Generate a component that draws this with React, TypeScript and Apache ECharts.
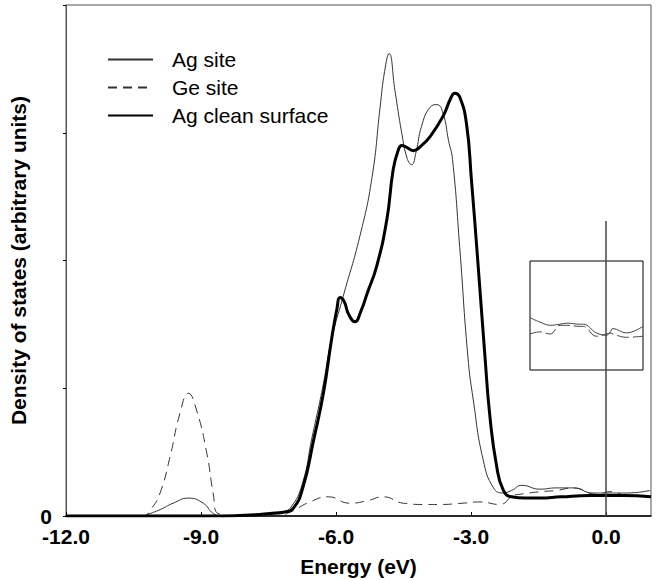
import React, { useEffect, useRef } from "react";
import * as echarts from "echarts";

// Ag site (thin solid)
const agSiteEnergy = [-12, -10.3, -10.2, -9.91, -9.62, -9.28, -8.95, -8.73, -8.55, -8.0, -7.5, -7.2, -7.0, -6.75, -6.53, -6.3, -6.1, -5.84, -5.47, -5.2, -5.02, -4.92, -4.82, -4.69, -4.54, -4.42, -4.32, -4.22, -4.1, -3.91, -3.76, -3.62, -3.5, -3.41, -3.25, -3.07, -2.95, -2.73, -2.5, -2.29, -2.1, -1.87, -1.47, -1.1, -0.73, -0.29, 0, 0.46, 0.98];
const agSiteDos = [0, 0, 0.01, 0.05, 0.1, 0.14, 0.1, 0.02, 0, 0, 0.01, 0.03, 0.07, 0.25, 0.62, 1.0, 1.38, 1.72, 2.19, 2.65, 3.2, 3.48, 3.62, 3.33, 3.0, 2.8, 2.75, 2.85, 3.05, 3.2, 3.22, 3.15, 2.94, 2.79, 2.1, 1.25, 0.91, 0.44, 0.22, 0.18, 0.2, 0.24, 0.21, 0.22, 0.22, 0.18, 0.18, 0.18, 0.2];

// Ge site (dashed)
const geSiteEnergy = [-12, -10.3, -10.1, -9.91, -9.69, -9.47, -9.28, -9.1, -8.87, -8.73, -8.62, -8.0, -7.3, -7.02, -6.58, -6.17, -5.69, -5.3, -4.95, -4.5, -4.0, -3.69, -3.2, -2.8, -2.36, -2.06, -1.91, -1.47, -1.1, -0.73, -0.21, 0.09, 0.46, 0.98];
const geSiteDos = [0, 0, 0.06, 0.18, 0.46, 0.8, 0.96, 0.83, 0.49, 0.18, 0.02, 0, 0, 0.03, 0.11, 0.15, 0.1, 0.12, 0.15, 0.1, 0.09, 0.09, 0.1, 0.11, 0.09, 0.16, 0.17, 0.19, 0.2, 0.22, 0.17, 0.19, 0.16, 0.15];

// Ag clean surface (thick)
const agCleanEnergy = [-12, -10, -8.5, -7.8, -7.47, -7.17, -6.95, -6.73, -6.5, -6.28, -6.1, -5.98, -5.91, -5.82, -5.72, -5.58, -5.45, -5.3, -5.1, -4.87, -4.73, -4.62, -4.54, -4.45, -4.28, -4.1, -3.91, -3.62, -3.45, -3.36, -3.25, -3.1, -2.99, -2.85, -2.69, -2.58, -2.43, -2.28, -2.1, -1.8, -1.47, -1.0, -0.36, 0.39, 1.0];
const agCleanDos = [0, 0, 0, 0.01, 0.02, 0.03, 0.06, 0.23, 0.59, 0.96, 1.38, 1.62, 1.71, 1.68, 1.58, 1.52, 1.6, 1.75, 1.95, 2.32, 2.71, 2.86, 2.9, 2.89, 2.86, 2.9, 2.97, 3.13, 3.27, 3.31, 3.28, 3.07, 2.63, 2.0, 1.25, 0.78, 0.39, 0.2, 0.15, 0.14, 0.14, 0.15, 0.16, 0.16, 0.15];

// Fermi level marker
const fermiEnergy = 0;
const fermiLineTop = 2.31;

// Inset (magnified region near Fermi level)
const insetEnergy = [-1.69, -1.47, -1.24, -1.02, -0.87, -0.58, -0.5, -0.21, 0.02, 0.09, 0.16, 0.46, 0.83];
const insetUpper = [0.48, 0.44, 0.41, 0.42, 0.43, 0.42, 0.42, 0.34, 0.32, 0.34, 0.38, 0.34, 0.4];
const insetLower = [0.33, 0.35, 0.33, 0.41, 0.41, 0.4, 0.4, 0.31, 0.33, 0.34, 0.33, 0.3, 0.31];

const seriesNames = ["Ag site", "Ge site", "Ag clean surface"];
const xTicks = { min: -12, max: 1, interval: 3 };
const yTicks = { min: 0, max: 4, interval: 1 };

const FONT = '"Liberation Sans", Arial, Helvetica, sans-serif';
const zip = (xs: number[], ys: number[]) => xs.map((x, i) => [x, ys[i]]);

export default function App() {
  const ref = useRef<HTMLDivElement>(null);
  useEffect(() => {
    const chart = echarts.init(ref.current!, null, { renderer: "svg" });
    chart.setOption({
      animation: false,
      backgroundColor: "#fff",
      textStyle: { fontFamily: FONT },
      legend: {
        data: seriesNames,
        orient: "vertical",
        left: 107,
        top: 49,
        padding: 0,
        itemWidth: 45,
        itemHeight: 20,
        itemGap: 7,
        itemStyle: { opacity: 0 },
        textStyle: { fontSize: 21, fontFamily: FONT, color: "#000", lineHeight: 20, height: 20, padding: [0, 0, 0, 14] },
      },
      grid: [
        { left: 66, top: 5, width: 585, height: 511, show: true, borderColor: "#555", borderWidth: 1, backgroundColor: "transparent", outerBoundsMode: "none", containLabel: false },
        { left: 530, top: 261, width: 113, height: 109, show: true, borderColor: "#000", borderWidth: 1, backgroundColor: "transparent", outerBoundsMode: "none", containLabel: false },
      ],
      xAxis: [
        {
          type: "value",
          gridIndex: 0,
          min: xTicks.min,
          max: xTicks.max,
          interval: xTicks.interval,
          name: "Energy (eV)",
          nameLocation: "middle",
          nameGap: 40,
          nameTextStyle: { fontSize: 21, fontWeight: "bold", color: "#000", fontFamily: FONT },
          axisLine: { show: true, onZero: false, lineStyle: { color: "#000", width: 1.5 } },
          axisTick: { show: true, inside: true, length: 4, lineStyle: { color: "#000" } },
          axisLabel: { formatter: (v: number) => v.toFixed(1), fontSize: 21, fontWeight: "bold", color: "#000", margin: 11, lineHeight: 18, fontFamily: FONT, showMaxLabel: false },
          splitLine: { show: false },
        },
        { type: "value", gridIndex: 1, min: -1.69, max: 0.83, show: false },
      ],
      yAxis: [
        {
          type: "value",
          gridIndex: 0,
          min: yTicks.min,
          max: yTicks.max,
          interval: yTicks.interval,
          name: "Density of states (arbitrary units)",
          nameLocation: "middle",
          nameGap: 25,
          nameTextStyle: { fontSize: 21, fontWeight: "bold", color: "#000", fontFamily: FONT },
          axisLine: { show: true, onZero: false, lineStyle: { color: "#555", width: 1 } },
          axisTick: { show: true, inside: false, length: 3, lineStyle: { color: "#000" } },
          axisLabel: { formatter: (v: number) => (v === 0 ? "0" : ""), fontSize: 21, fontWeight: "bold", color: "#000", margin: 14, lineHeight: 14, padding: [0, 0, 4, 0], fontFamily: FONT },
          splitLine: { show: false },
        },
        { type: "value", gridIndex: 1, min: 0, max: 1, show: false },
      ],
      series: [
        {
          name: "Ag site",
          type: "line",
          data: zip(agSiteEnergy, agSiteDos),
          smooth: 0.5,
          symbol: "none",
          lineStyle: { color: "#333", width: 1 },
          itemStyle: { color: "#333" },
          z: 3,
        },
        {
          name: "Ge site",
          type: "line",
          data: zip(geSiteEnergy, geSiteDos),
          smooth: 0.5,
          symbol: "none",
          lineStyle: { color: "#333", width: 1, type: [9, 6] },
          itemStyle: { color: "#333" },
          z: 3,
        },
        {
          name: "Ag clean surface",
          type: "line",
          data: zip(agCleanEnergy, agCleanDos),
          smooth: 0.5,
          symbol: "none",
          lineStyle: { color: "#000", width: 3 },
          itemStyle: { color: "#000" },
          z: 4,
        },
        {
          name: "fermi",
          type: "line",
          data: [[fermiEnergy, 0], [fermiEnergy, fermiLineTop]],
          symbol: "none",
          lineStyle: { color: "#444", width: 1.5 },
          z: 5,
        },
        {
          name: "insetUpper",
          type: "line",
          xAxisIndex: 1,
          yAxisIndex: 1,
          data: zip(insetEnergy, insetUpper),
          smooth: 0.4,
          symbol: "none",
          lineStyle: { color: "#444", width: 1 },
        },
        {
          name: "insetLower",
          type: "line",
          xAxisIndex: 1,
          yAxisIndex: 1,
          data: zip(insetEnergy, insetLower),
          smooth: 0.4,
          symbol: "none",
          lineStyle: { color: "#444", width: 1, type: [12, 4] },
        },
      ],
    });
    return () => chart.dispose();
  }, []);
  return <div ref={ref} style={{ position: "fixed", left: 0, top: 0, width: 661, height: 580, background: "#fff" }} />;
}
